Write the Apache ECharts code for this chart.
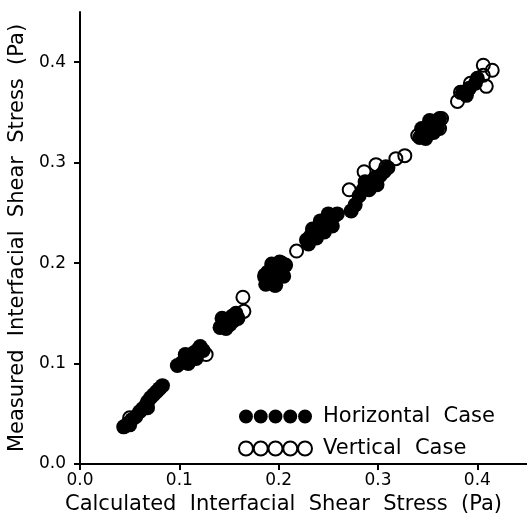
<!DOCTYPE html>
<html>
<head>
<meta charset="utf-8">
<script src="https://cdn.jsdelivr.net/npm/echarts@6/dist/echarts.min.js"></script>
<style>
	html, body { margin: 0; padding: 0; background: #fff; }
	#chart { width: 527px; height: 514px; }
</style>
</head>
<body>
<div id="chart"></div>
<script>
// 数据：水平 (实心) / 垂直 (空心)
var horizontalPts = [
	[0.044, 0.037], [0.048, 0.040], [0.050, 0.039], [0.052, 0.044], [0.056, 0.047],
	[0.060, 0.052], [0.063, 0.055], [0.066, 0.058], [0.068, 0.062], [0.071, 0.066],
	[0.074, 0.069], [0.077, 0.072], [0.080, 0.075], [0.083, 0.078], [0.068, 0.056],
	[0.098, 0.098], [0.103, 0.101], [0.107, 0.105], [0.111, 0.108], [0.115, 0.111],
	[0.119, 0.114], [0.109, 0.100], [0.117, 0.105], [0.121, 0.117], [0.124, 0.113], [0.106, 0.109],
	[0.141, 0.136], [0.145, 0.140], [0.149, 0.144], [0.153, 0.147], [0.157, 0.150],
	[0.147, 0.135], [0.151, 0.139], [0.143, 0.145], [0.155, 0.143], [0.159, 0.145],
	[0.187, 0.179], [0.191, 0.183], [0.195, 0.187], [0.199, 0.191], [0.203, 0.195],
	[0.189, 0.191], [0.197, 0.178], [0.205, 0.187], [0.193, 0.199], [0.201, 0.201],
	[0.186, 0.188], [0.207, 0.198],
	[0.228, 0.223], [0.232, 0.227], [0.236, 0.231], [0.240, 0.235], [0.244, 0.238],
	[0.248, 0.241], [0.252, 0.244], [0.256, 0.247], [0.259, 0.249], [0.238, 0.225],
	[0.246, 0.231], [0.254, 0.237], [0.234, 0.234], [0.242, 0.242], [0.250, 0.249], [0.230, 0.219],
	[0.273, 0.252], [0.277, 0.258], [0.281, 0.267], [0.285, 0.273], [0.289, 0.277],
	[0.293, 0.281], [0.297, 0.285], [0.302, 0.287], [0.306, 0.291], [0.291, 0.273],
	[0.299, 0.278], [0.287, 0.281], [0.310, 0.295],
	[0.342, 0.325], [0.346, 0.329], [0.350, 0.333], [0.354, 0.337], [0.358, 0.341],
	[0.362, 0.344], [0.348, 0.324], [0.356, 0.330], [0.344, 0.334], [0.360, 0.334], [0.352, 0.342],
	[0.385, 0.370], [0.392, 0.374], [0.398, 0.379], [0.389, 0.367], [0.400, 0.384]
];
var verticalPts = [
	[0.050, 0.046], [0.127, 0.109], [0.164, 0.166], [0.165, 0.152],
	[0.186, 0.186], [0.203, 0.200], [0.196, 0.178], [0.218, 0.212],
	[0.271, 0.273], [0.286, 0.291], [0.298, 0.298], [0.308, 0.296], [0.318, 0.304], [0.327, 0.307],
	[0.364, 0.344], [0.362, 0.334], [0.340, 0.327],
	[0.380, 0.361], [0.383, 0.370], [0.393, 0.379], [0.406, 0.397], [0.415, 0.392],
	[0.409, 0.376], [0.406, 0.387]
];
var tickValues = [0, 0.1, 0.2, 0.3, 0.4];
var seriesNames = ['Horizontal  Case', 'Vertical  Case'];

var fontName = 'DejaVu Sans';
// 图例图标：五个圆
var fiveCircles = 'path://M0,7a7,7 0 1,0 14,0a7,7 0 1,0 -14,0z' +
	'M14.8,7a7,7 0 1,0 14,0a7,7 0 1,0 -14,0z' +
	'M29.6,7a7,7 0 1,0 14,0a7,7 0 1,0 -14,0z' +
	'M44.4,7a7,7 0 1,0 14,0a7,7 0 1,0 -14,0z' +
	'M59.2,7a7,7 0 1,0 14,0a7,7 0 1,0 -14,0z';

var axisCommon = {
	min: 0,
	max: 0.45,
	interval: 0.1,
	splitLine: { show: false },
	axisLine: { onZero: false, lineStyle: { color: '#000', width: 2 } },
	axisTick: { inside: false, length: 6, lineStyle: { color: '#000', width: 2 }, customValues: tickValues },
	axisLabel: {
		color: '#000', fontSize: 17, fontFamily: fontName,
		customValues: tickValues,
		formatter: function(v) { return v.toFixed(1); }
	},
	nameLocation: 'middle',
	nameTextStyle: { color: '#000', fontSize: 21, fontFamily: fontName }
};

var myChart = echarts.init(document.getElementById('chart'));
var option = {
	animation: false,
	backgroundColor: '#fff',
	grid: { left: 80, right: 0, top: 12, bottom: 50, containLabel: false, outerBoundsMode: 'none' },
	legend: {
		orient: 'vertical',
		left: 238,
		top: 406,
		padding: 0,
		itemWidth: 73,
		itemHeight: 14,
		itemGap: 11,
		textStyle: { color: '#000', fontSize: 21, fontFamily: fontName, padding: [0, 0, 0, 6] },
		data: [
			{ name: seriesNames[0], icon: fiveCircles, itemStyle: { color: '#000', borderWidth: 0 } },
			{ name: seriesNames[1], icon: fiveCircles, itemStyle: { color: 'transparent', borderColor: '#000', borderWidth: 2 } }
		]
	},
	xAxis: [
		Object.assign({}, axisCommon, {
			type: 'value',
			position: 'bottom',
			name: 'Calculated  Interfacial  Shear  Stress  (Pa)',
			nameGap: 29,
			nameTextStyle: Object.assign({}, axisCommon.nameTextStyle, { padding: [0, 40, 0, 0] }),
			axisLabel: Object.assign({}, axisCommon.axisLabel, { margin: 8 })
		}),
		{
			type: 'value', position: 'top', min: 0, max: 0.45,
			axisLine: { show: true, lineStyle: { color: '#000', width: 2 } },
			axisTick: { show: false }, axisLabel: { show: false }, splitLine: { show: false }
		}
	],
	yAxis: Object.assign({}, axisCommon, {
		type: 'value',
		name: 'Measured  Interfacial  Shear  Stress  (Pa)',
		nameGap: 36,
		axisLabel: Object.assign({}, axisCommon.axisLabel, { margin: 14 })
	}),
	series: [
		{
			name: seriesNames[0],
			type: 'scatter',
			symbol: 'circle',
			symbolSize: 15,
			itemStyle: { color: '#000', opacity: 1 },
			data: horizontalPts
		},
		{
			name: seriesNames[1],
			type: 'scatter',
			symbol: 'circle',
			symbolSize: 13,
			z: 3,
			itemStyle: { color: 'transparent', borderColor: '#000', borderWidth: 2, opacity: 1 },
			data: verticalPts
		}
	]
};
myChart.setOption(option);
</script>
</body>
</html>
